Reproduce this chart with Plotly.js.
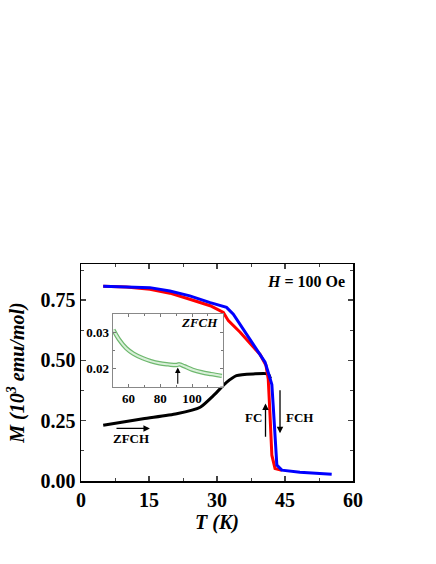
<!DOCTYPE html>
<html><head><meta charset="utf-8">
<script src="https://cdn.plot.ly/plotly-3.0.1.min.js"></script>
<style>html,body{margin:0;padding:0;background:#fff}</style>
</head><body><div id="chart" style="width:436px;height:564px"></div>
<script>
// FCH (blue)
var fchT = [4.9, 10, 15.2, 19.6, 24.0, 28.5, 32.1, 33.6, 35.8, 38.8, 40.6, 41.3, 42.1, 42.4, 42.8, 43.2, 44.3, 48.3, 55.3];
var fchM = [0.808, 0.806, 0.802, 0.788, 0.768, 0.740, 0.720, 0.692, 0.630, 0.548, 0.493, 0.450, 0.400, 0.313, 0.162, 0.066, 0.045, 0.036, 0.028];
// FC (red)
var fcT = [4.9, 10, 15.2, 19.6, 24.0, 28.5, 31.4, 32.5, 35.1, 38.0, 39.5, 40.8, 41.3, 41.7, 42.1, 42.8, 44.3];
var fcM = [0.808, 0.805, 0.795, 0.779, 0.754, 0.727, 0.699, 0.665, 0.617, 0.555, 0.525, 0.480, 0.423, 0.272, 0.107, 0.052, 0.044];
// ZFCH (black)
var zfcT = [4.9, 13.7, 21.1, 26.3, 29.2, 32.1, 34.3, 38.0, 41.3, 41.8];
var zfcM = [0.231, 0.258, 0.279, 0.306, 0.354, 0.409, 0.437, 0.444, 0.444, 0.425];
// Inset ZFCH (green)
var insT = [50.4, 54, 58.5, 63, 69, 74, 79.5, 85, 90, 92, 95, 100.4, 106, 112, 118.8];
var insM = [0.0307, 0.0280, 0.0256, 0.0241, 0.0228, 0.0220, 0.0214, 0.0211, 0.0209, 0.0211, 0.0206, 0.0196, 0.0189, 0.0184, 0.0179];

var xTicks = [0, 15, 30, 45, 60];
var yTicks = [0, 0.25, 0.5, 0.75];
var yTickText = ['0.00', '0.25', '0.50', '0.75'];
var insXTicks = [60, 80, 100];
var insYTicks = [0.02, 0.03];

var serif = 'Times New Roman, Liberation Serif, serif';
var traces = [
  {x: zfcT, y: zfcM, mode: 'lines', line: {color: '#000', width: 3, shape: 'spline', smoothing: 0.6}, xaxis: 'x', yaxis: 'y'},
  {x: fcT, y: fcM, mode: 'lines', line: {color: '#ff0000', width: 3}, xaxis: 'x', yaxis: 'y'},
  {x: fchT, y: fchM, mode: 'lines', line: {color: '#0000ff', width: 3}, xaxis: 'x', yaxis: 'y'},
  {x: insT, y: insM, mode: 'lines', line: {color: '#6fb86f', width: 4.5, shape: 'spline'}, xaxis: 'x2', yaxis: 'y2'},
  {x: insT, y: insM, mode: 'lines', line: {color: '#d9f0d9', width: 2, shape: 'spline'}, xaxis: 'x2', yaxis: 'y2'}
];

var tf = {family: serif, size: 20, color: '#000', weight: 'bold'};
var layout = {
  width: 436, height: 564,
  margin: {l: 81, r: 83, t: 264, b: 83},
  showlegend: false,
  paper_bgcolor: '#fff', plot_bgcolor: '#fff',
  font: {family: serif},
  xaxis: {
    range: [0, 60], tickvals: xTicks, ticks: 'inside', ticklen: 5, tickwidth: 1.5,
    minor: {dtick: 7.5, ticks: 'inside', ticklen: 3, tickwidth: 1},
    showline: true, linecolor: '#000', linewidth: 1.5, mirror: 'ticks', showgrid: false, zeroline: false,
    tickfont: tf,
    title: {text: '<b><i>T (K)</i></b>', font: {family: serif, size: 20, color: '#000'}, standoff: 2}
  },
  yaxis: {
    range: [0, 0.9], tickvals: yTicks, ticktext: yTickText, ticks: 'inside', ticklen: 5, tickwidth: 1.5,
    minor: {tickvals: [0.125, 0.375, 0.625, 0.875], ticks: 'inside', ticklen: 3, tickwidth: 1},
    showline: true, linecolor: '#000', linewidth: 1.5, mirror: 'ticks', showgrid: false, zeroline: false,
    tickfont: tf,
    title: {text: '<b><i>M (10<sup>3</sup> emu/mol)</i></b>', font: {family: serif, size: 20, color: '#000'}, standoff: 10}
  },
  xaxis2: {
    domain: [0.1165, 0.522], anchor: 'y2', range: [50, 119.5], tickvals: insXTicks,
    ticks: 'inside', ticklen: 3, tickwidth: 1, tickcolor: '#777',
    minor: {dtick: 10, ticks: 'inside', ticklen: 2, tickcolor: '#777'},
    showline: true, linecolor: '#888', linewidth: 1, mirror: 'ticks', showgrid: false, zeroline: false,
    tickfont: {family: serif, size: 13, color: '#000', weight: 'bold'}
  },
  yaxis2: {
    domain: [0.4346, 0.7696], anchor: 'x2', range: [0.0149, 0.0351], tickvals: insYTicks,
    ticks: 'inside', ticklen: 3, tickwidth: 1, tickcolor: '#777',
    minor: {dtick: 0.005, ticks: 'inside', ticklen: 2, tickcolor: '#777'},
    showline: true, linecolor: '#888', linewidth: 1, mirror: 'ticks', showgrid: false, zeroline: false,
    tickfont: {family: serif, size: 13, color: '#000', weight: 'bold'}
  },
  annotations: [
    {x: 58.6, y: 0.828, xref: 'x', yref: 'y', xanchor: 'right', yanchor: 'middle', showarrow: false,
     text: '<b><i>H</i> = 100 Oe</b>', font: {family: serif, size: 16, color: '#000'}},
    {x: 11.1, y: 0.177, xref: 'x', yref: 'y', showarrow: false, text: '<b>ZFCH</b>', font: {family: serif, size: 13, color: '#000'}},
    {x: 38.1, y: 0.262, xref: 'x', yref: 'y', showarrow: false, text: '<b>FC</b>', font: {family: serif, size: 13, color: '#000'}},
    {x: 48.3, y: 0.264, xref: 'x', yref: 'y', showarrow: false, text: '<b>FCH</b>', font: {family: serif, size: 13, color: '#000'}},
    {x: 15.2, y: 0.218, ax: 7.5, ay: 0.218, xref: 'x', yref: 'y', axref: 'x', ayref: 'y', showarrow: true,
     arrowhead: 2, arrowsize: 1, arrowwidth: 1.3, arrowcolor: '#000', text: ''},
    {x: 40.7, y: 0.321, ax: 40.7, ay: 0.177, xref: 'x', yref: 'y', axref: 'x', ayref: 'y', showarrow: true,
     arrowhead: 2, arrowsize: 1, arrowwidth: 1.3, arrowcolor: '#000', text: ''},
    {x: 43.9, y: 0.198, ax: 43.9, ay: 0.383, xref: 'x', yref: 'y', axref: 'x', ayref: 'y', showarrow: true,
     arrowhead: 2, arrowsize: 1, arrowwidth: 1.3, arrowcolor: '#000', text: ''},
    {x: 91, y: 0.0202, ax: 91, ay: 0.0153, xref: 'x2', yref: 'y2', axref: 'x2', ayref: 'y2', showarrow: true,
     arrowhead: 2, arrowsize: 1, arrowwidth: 1.1, arrowcolor: '#000', text: ''},
    {x: 117.9, y: 0.0326, xref: 'x2', yref: 'y2', xanchor: 'right', showarrow: false,
     text: '<b><i>ZFCH</i></b>', font: {family: serif, size: 13, color: '#000'}}
  ]
};
Plotly.newPlot('chart', traces, layout, {displayModeBar: false, staticPlot: true});
</script></body></html>
